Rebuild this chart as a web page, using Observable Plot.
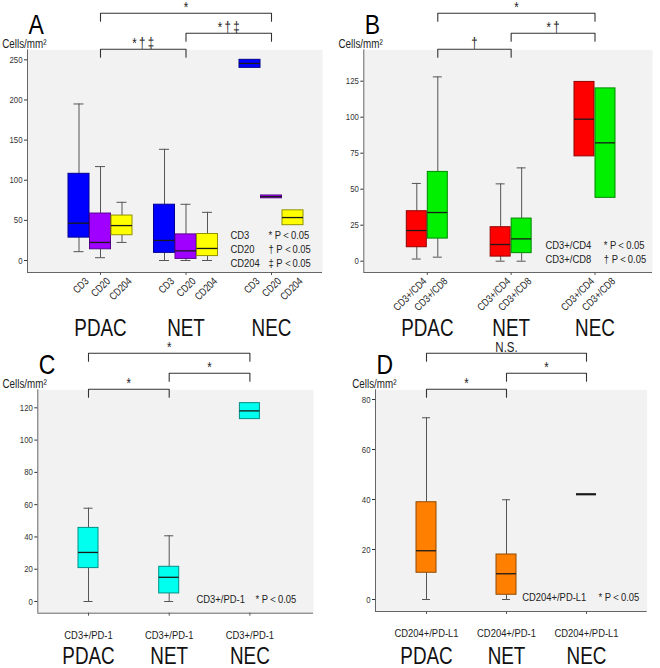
<!DOCTYPE html>
<html><head><meta charset="utf-8">
<script src="https://cdn.jsdelivr.net/npm/d3@7"></script>
<script src="https://cdn.jsdelivr.net/npm/@observablehq/plot@0.6"></script>
<style>
body{margin:0;background:#fff;}
#root{position:relative;width:660px;height:668px;overflow:hidden;background:#fff;}
.panel{position:absolute;}
.panel svg{overflow:visible;display:block;}
</style></head><body><div id="root"></div>
<script>
const FONT = '"Liberation Sans",Arial,sans-serif';
const SX = 0.82; // horizontal condensing of text (narrow face)
const groups = ["PDAC", "NET", "NEC"];

// ---- Panel A ----
const markersA = ["CD3", "CD20", "CD204"];
const colorsA = ["#0000ff", "#a000ff", "#ffff00"];
const lowA  = [11, 3.5, 22.5, 0, 0, 0, null, null, null];
const q1A   = [28.5, 14, 31.5, 9.5, 2, 5.5, 240, 77.5, 44];
const medA  = [46.5, 22.5, 43.5, 25, 12, 15, 245.5, 79.5, 53.5];
const q3A   = [108, 58.5, 56, 69.5, 32.5, 33, 250, 81, 62.5];
const highA = [195, 117, 72.5, 138.5, 70, 60, null, null, null];
const yTicksA = [0, 50, 100, 150, 200, 250];
const bracketsA = [{from: 0, to: 2, label: "*"}, {from: 1, to: 2, label: "*\u2009†\u2009‡"}, {from: 0, to: 1, label: "*\u2009†\u2009‡"}];
const legendNamesA = ["CD3", "CD20", "CD204"];
const legendPA = ["* P＜0.05", "† P＜0.05", "‡ P＜0.05"];

// ---- Panel B ----
const markersB = ["CD3+/CD4", "CD3+/CD8"];
const colorsB = ["#ff0000", "#00f000"];
const lowB  = [1.5, 2.8, 0, 0, null, null];
const q1B   = [9.7, 15.7, 3.2, 5.6, 72.8, 44];
const medB  = [21.3, 33.8, 11.6, 15.5, 98.6, 82.2];
const q3B   = [34.7, 62, 23.6, 29.6, 124.5, 120];
const highB = [54, 128, 53.7, 64.8, null, null];
const yTicksB = [0, 25, 50, 75, 100, 125];
const bracketsB = [{from: 0.125, to: 2, label: "*"}, {from: 1, to: 2, label: "*\u2009†"}, {from: 0.125, to: 1, label: "†"}];
const legendNamesB = ["CD3+/CD4", "CD3+/CD8"];
const legendPB = ["* P＜0.05", "† P＜0.05"];

// ---- Panel C ----
const markersC = ["CD3+/PD-1"];
const colorsC = ["#00ffee"];
const lowC  = [0, 0, null];
const q1C   = [20.7, 5, 113];
const medC  = [30.4, 15, 118.1];
const q3C   = [45.6, 21.5, 122.9];
const highC = [57.8, 40.7, null];
const yTicksC = [0, 20, 40, 60, 80, 100, 120];
const bracketsC = [{from: 0, to: 2, label: "*"}, {from: 1, to: 2, label: "*"}, {from: 0, to: 1, label: "*"}];
const tickLabelsC = ["CD3+/PD-1", "CD3+/PD-1", "CD3+/PD-1"];
const legendNamesC = ["CD3+/PD-1"];
const legendPC = ["* P＜0.05"];

// ---- Panel D ----
const markersD = ["CD204+/PD-L1"];
const colorsD = ["#ff8000"];
const lowD  = [0, 0, null];
const q1D   = [10.7, 1.9, 42.1];
const medD  = [19.5, 10.3, 42.1];
const q3D   = [38.9, 18, 42.1];
const highD = [72.7, 39.9, null];
const yTicksD = [0, 20, 40, 60, 80];
const bracketsD = [{from: 0, to: 2, label: "N.S."}, {from: 1, to: 2, label: "*"}, {from: 0, to: 1, label: "*"}];
const tickLabelsD = ["CD204+/PD-L1", "CD204+/PD-1", "CD204+/PD-L1"];
const legendNamesD = ["CD204+/PD-L1"];
const legendPD = ["* P＜0.05"];

function condense(svg) {
  svg.querySelectorAll("text").forEach(t => {
    const tr = t.getAttribute("transform") || "";
    t.setAttribute("transform", `${tr} scale(${SX},1)`.trim());
  });
}

function buildPanel(cfg) {
  const L = cfg.layout;
  const ml = L.l - L.left, mr = L.left + L.w - L.r, mt = L.t - L.top, mb = L.top + L.h - L.b;
  const xd = [(L.l - L.g0) / L.step, (L.r - L.g0) / L.step];
  const yd = [(L.y0 - L.b) / L.ppu, (L.y0 - L.t) / L.ppu];
  const ySvg = d3.scaleLinear(yd, [L.h - mb, mt]);
  const u = px => px / L.step;
  const boxes = [];
  groups.forEach((g, gi) => cfg.markers.forEach((m, mi) => {
    const i = gi * cfg.markers.length + mi;
    boxes.push({
      g, m, cx: gi + u(cfg.offsets[mi]), color: cfg.colors[mi],
      stroke: d3.color(cfg.colors[mi]).darker(1.6).formatHex(),
      low: cfg.low[i], q1: cfg.q1[i], med: cfg.med[i], q3: cfg.q3[i], high: cfg.high[i],
      label: cfg.tickLabels ? cfg.tickLabels[i] : m
    });
  }));
  const hw = u(cfg.boxPx) / 2, cw = u(cfg.capPx) / 2;
  const wh = boxes.filter(d => d.high != null);
  const levels = [-36.5, -16.5, -0.5];
  const brPts = [], brLab = [];
  cfg.brackets.forEach((b, k) => {
    const yl = ySvg.invert(mt + levels[k]), yt = ySvg.invert(mt + levels[k] + 8);
    brPts.push({k, x: b.from, y: yt}, {k, x: b.from, y: yl}, {k, x: b.to, y: yl}, {k, x: b.to, y: yt});
    brLab.push({x: (b.from + b.to) / 2, y: ySvg.invert(mt + levels[k] - 1.5), label: b.label});
  });
  const marks = [
    Plot.frame({fill: "#f2f2f2", stroke: "none"}),
    Plot.ruleX([xd[0]], {stroke: "#666"}),
    Plot.ruleY([yd[0]], {stroke: "#666"}),
    Plot.axisY({ticks: cfg.yTicks, tickSize: 3, tickPadding: 2, fontSize: 9.5, label: null, color: "#333"}),
    Plot.axisX({ticks: [0, 1, 2], tickSize: 3, tickFormat: () => "", label: null, color: "#555"}),
    Plot.ruleX(wh, {x: "cx", y1: "q3", y2: "high", stroke: "#555"}),
    Plot.ruleX(wh, {x: "cx", y1: "low", y2: "q1", stroke: "#555"}),
    Plot.ruleY(wh, {x1: d => d.cx - cw, x2: d => d.cx + cw, y: "high", stroke: "#555"}),
    Plot.ruleY(wh, {x1: d => d.cx - cw, x2: d => d.cx + cw, y: "low", stroke: "#555"}),
    Plot.rect(boxes.filter(d => d.q3 > d.q1), {x1: d => d.cx - hw, x2: d => d.cx + hw, y1: "q1", y2: "q3", fill: "color", stroke: "stroke", strokeWidth: 1}),
    Plot.ruleY(boxes, {x1: d => d.cx - hw, x2: d => d.cx + hw, y: "med", stroke: "#1a1a1a", strokeWidth: d => d.q3 > d.q1 ? 1.3 : 2.2}),
    cfg.rotate
      ? Plot.text(boxes, {x: "cx", frameAnchor: "bottom", text: "label", rotate: -45, textAnchor: "end", lineAnchor: "middle", dx: 8, dy: 7, fontSize: 10.5, fill: "#222"})
      : Plot.text(boxes, {x: "cx", frameAnchor: "bottom", text: "label", lineAnchor: "bottom", dy: 25.5, fontSize: 11.5, fill: "#222"}),
    Plot.text(groups, {x: (d, i) => i, frameAnchor: "bottom", text: d => d, lineAnchor: "bottom", dy: cfg.groupDy, fontSize: 23, fill: "#111"}),
    Plot.line(brPts, {x: "x", y: "y", z: "k", stroke: "#333", strokeWidth: 1.1}),
    Plot.text(brLab, {x: "x", y: "y", text: "label", lineAnchor: "bottom", fontSize: 14, fill: "#222"}),
    Plot.text([cfg.legendNames.join("\n")], {frameAnchor: "bottom-right", text: d => d, textAnchor: "start", lineAnchor: "bottom", dx: cfg.legDx[0], dy: cfg.legDy, fontSize: 11.5, lineHeight: 14 / 11.5, fill: "#222"}),
    Plot.text([cfg.legendP.join("\n")], {frameAnchor: "bottom-right", text: d => d, textAnchor: "start", lineAnchor: "bottom", dx: cfg.legDx[1], dy: cfg.legDy, fontSize: 11.5, lineHeight: 14 / 11.5, fill: "#222"}),
    Plot.text([cfg.letter], {frameAnchor: "top-left", text: d => d, textAnchor: "start", lineAnchor: "bottom", dx: 1, dy: -16.3, fontSize: 28, fill: "#000"}),
    Plot.text(["Cells/mm²"], {frameAnchor: "top-left", text: d => d, textAnchor: "start", lineAnchor: "bottom", dx: cfg.cellsDx, dy: -2.3, fontSize: 12, fill: "#222"})
  ];
  const svg = Plot.plot({
    width: L.w, height: L.h,
    marginLeft: ml, marginRight: mr, marginTop: mt, marginBottom: mb,
    x: {type: "linear", domain: xd, axis: null},
    y: {type: "linear", domain: yd, axis: null},
    style: {background: "transparent", overflow: "visible", fontFamily: FONT, color: "#222"},
    marks
  });
  condense(svg);
  const div = document.createElement("div");
  div.className = "panel";
  div.style.left = L.left + "px";
  div.style.top = L.top + "px";
  div.appendChild(svg);
  document.getElementById("root").appendChild(div);
}

buildPanel({
  letter: "A", markers: markersA, colors: colorsA, offsets: [-21.5, 0, 21.5],
  low: lowA, q1: q1A, med: medA, q3: q3A, high: highA, yTicks: yTicksA, brackets: bracketsA,
  legendNames: legendNamesA, legendP: legendPA, rotate: true, boxPx: 21, capPx: 10,
  layout: {left: 0, top: 0, w: 330, h: 336, l: 27, t: 49.3, r: 322, b: 272, g0: 100, step: 85.5, y0: 260, ppu: 0.8027},
  groupDy: 63, legDx: [-92, -54], legDy: -5.8, cellsDx: -25.3
});
buildPanel({
  letter: "B", markers: markersB, colors: colorsB, offsets: [-10.5, 10.5],
  low: lowB, q1: q1B, med: medB, q3: q3B, high: highB, yTicks: yTicksB, brackets: bracketsB,
  legendNames: legendNamesB, legendP: legendPB, rotate: true, boxPx: 20, capPx: 9,
  layout: {left: 330, top: 0, w: 330, h: 336, l: 363.3, t: 49.3, r: 652, b: 272, g0: 426.8, step: 83.85, y0: 260.7, ppu: 1.44},
  groupDy: 63, legDx: [-107, -48.7], legDy: -9.8, cellsDx: -25.3
});
buildPanel({
  letter: "C", markers: markersC, colors: colorsC, offsets: [0], tickLabels: tickLabelsC,
  low: lowC, q1: q1C, med: medC, q3: q3C, high: highC, yTicks: yTicksC, brackets: bracketsC,
  legendNames: legendNamesC, legendP: legendPC, rotate: false, boxPx: 20, capPx: 9,
  layout: {left: 0, top: 330, w: 330, h: 338, l: 37.3, t: 389.3, r: 313, b: 612.7, g0: 88, step: 80.7, y0: 601, ppu: 1.614},
  groupDy: 50.5, legDx: [-117, -58], legDy: -9.8, cellsDx: -35.3
});
buildPanel({
  letter: "D", markers: markersD, colors: colorsD, offsets: [0], tickLabels: tickLabelsD,
  low: lowD, q1: q1D, med: medD, q3: q3D, high: highD, yTicks: yTicksD, brackets: bracketsD,
  legendNames: legendNamesD, legendP: legendPD, rotate: false, boxPx: 20, capPx: 8,
  layout: {left: 330, top: 330, w: 330, h: 338, l: 375, t: 389.3, r: 646.7, b: 611, g0: 426, step: 80, y0: 599, ppu: 2.5},
  groupDy: 52, legDx: [-125, -48.7], legDy: -10.1, cellsDx: -23.3
});
</script></body></html>
